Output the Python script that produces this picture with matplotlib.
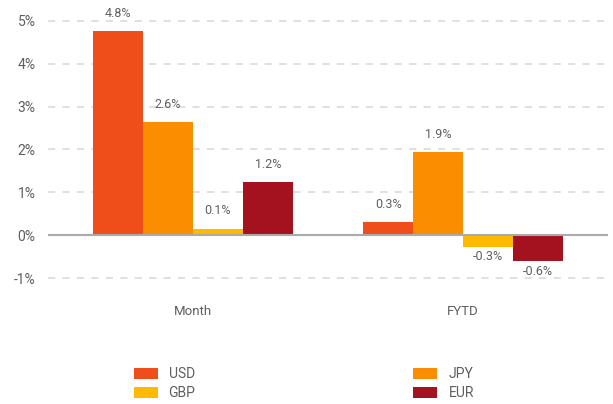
import matplotlib
matplotlib.use("Agg")
import matplotlib.pyplot as plt
import numpy as np

categories = ["Month", "FYTD"]
series_names = ["USD", "JPY", "GBP", "EUR"]
series_values = {
    "USD": [4.76, 0.30],
    "JPY": [2.63, 1.93],
    "GBP": [0.15, -0.28],
    "EUR": [1.23, -0.61],
}
series_labels = {
    "USD": ["4.8%", "0.3%"],
    "JPY": ["2.6%", "1.9%"],
    "GBP": ["0.1%", "-0.3%"],
    "EUR": ["1.2%", "-0.6%"],
}
colors = {"USD": "#EF4D19", "JPY": "#FB8D00", "GBP": "#FFBA00", "EUR": "#A4111F"}
yticks = [-1, 0, 1, 2, 3, 4, 5]
ytick_labels = ["-1%", "0%", "1%", "2%", "3%", "4%", "5%"]

plt.rcParams["font.family"] = ["Roboto", "DejaVu Sans"]
txt = "#5f5f5f"

fig = plt.figure(figsize=(6.13, 4.04), dpi=100)
ax = fig.add_axes([48/613, 0.280, 560/613, 0.700])

x = np.arange(len(categories))
w = 0.185
offsets = (np.arange(len(series_names)) - 1.5) * w
handles = {}
for i, name in enumerate(series_names):
    vals = series_values[name]
    bars = ax.bar(x + offsets[i], vals, width=w, color=colors[name], zorder=3, label=name)
    handles[name] = bars
    for xi, v, lab in zip(x + offsets[i], vals, series_labels[name]):
        if v >= 0:
            ax.annotate(lab, (xi, v), xytext=(0, 13), textcoords="offset points",
                        ha="center", va="center", fontsize=9, color=txt, zorder=4)
        else:
            ax.annotate(lab, (xi, v), xytext=(0, -7), textcoords="offset points",
                        ha="center", va="center", fontsize=9, color=txt, zorder=4)

ax.set_xlim(-0.537, 1.537)
ax.set_ylim(-1.3, 5.3)
ax.set_yticks(yticks)
ax.set_yticklabels(ytick_labels)
ax.set_xticks(x)
ax.set_xticklabels(categories)
for t in yticks:
    if t == 0:
        ax.axhline(0, color="#aaaaaa", lw=1.5, zorder=4)
    else:
        ax.axhline(t, color="#dddddd", lw=1.3, ls=(0, (4, 4)), zorder=1)
for s in ax.spines.values():
    s.set_visible(False)
ax.tick_params(axis="y", length=0, pad=9, labelsize=10, labelcolor=txt)
ax.tick_params(axis="x", length=0, pad=10, labelsize=9.5, labelcolor=txt)

order = ["USD", "GBP", "JPY", "EUR"]
leg = fig.legend([handles[n] for n in order], order, loc="upper left",
                 bbox_to_anchor=(121/613, 1 - 355/404), ncol=2, frameon=False,
                 fontsize=10, labelcolor=txt, handlelength=1.73, handleheight=0.86,
                 handletextpad=0.79, columnspacing=15.7, labelspacing=0.35)

fig.savefig("out.png", dpi=100)
